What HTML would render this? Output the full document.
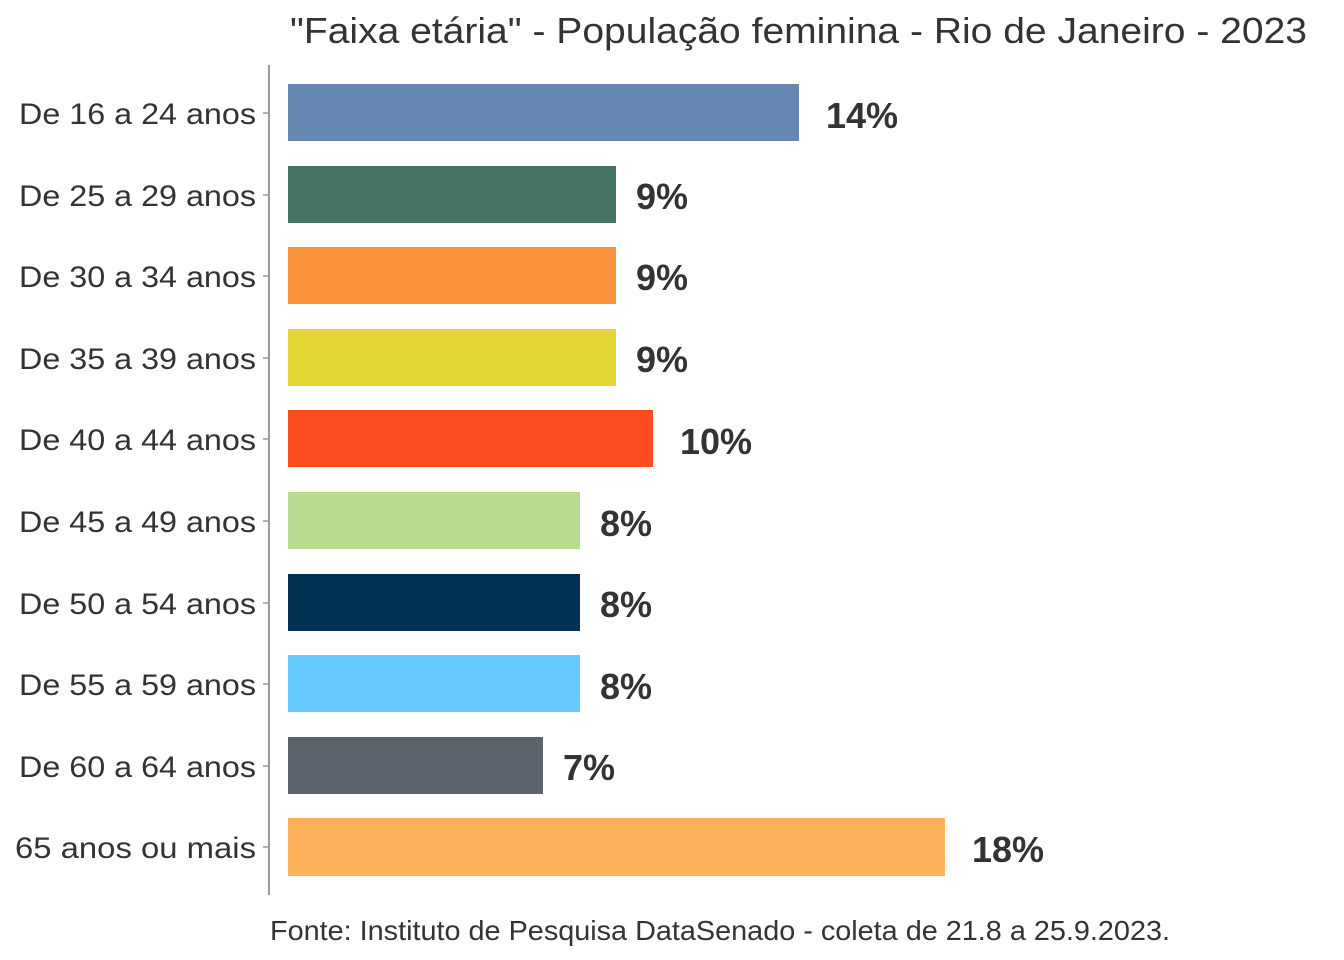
<!DOCTYPE html>
<html><head><meta charset="utf-8"><style>
html,body{margin:0;padding:0;background:#fff;}
svg{display:block;}
</style></head><body>
<svg width="1344" height="960" viewBox="0 0 1344 960" xmlns="http://www.w3.org/2000/svg">
<rect width="1344" height="960" fill="#fff"/>
<text x="290" y="43" font-family="Liberation Sans, sans-serif" font-size="36" fill="#333" textLength="1017" lengthAdjust="spacingAndGlyphs">"Faixa etária" - População feminina - Rio de Janeiro - 2023</text>
<line x1="269" y1="65" x2="269" y2="895" stroke="#999" stroke-width="2"/>
<g font-family="Liberation Sans, sans-serif" font-size="30" fill="#333" text-anchor="end">
<g stroke="#999" stroke-width="1.5">
<line x1="263" y1="113" x2="269" y2="113"/><line x1="263" y1="195" x2="269" y2="195"/><line x1="263" y1="276" x2="269" y2="276"/><line x1="263" y1="358" x2="269" y2="358"/><line x1="263" y1="439" x2="269" y2="439"/><line x1="263" y1="521" x2="269" y2="521"/><line x1="263" y1="603" x2="269" y2="603"/><line x1="263" y1="684" x2="269" y2="684"/><line x1="263" y1="766" x2="269" y2="766"/><line x1="263" y1="847" x2="269" y2="847"/>
</g>
<text x="256" y="124" textLength="237" lengthAdjust="spacingAndGlyphs">De 16 a 24 anos</text>
<text x="256" y="206" textLength="237" lengthAdjust="spacingAndGlyphs">De 25 a 29 anos</text>
<text x="256" y="287" textLength="237" lengthAdjust="spacingAndGlyphs">De 30 a 34 anos</text>
<text x="256" y="369" textLength="237" lengthAdjust="spacingAndGlyphs">De 35 a 39 anos</text>
<text x="256" y="450" textLength="237" lengthAdjust="spacingAndGlyphs">De 40 a 44 anos</text>
<text x="256" y="532" textLength="237" lengthAdjust="spacingAndGlyphs">De 45 a 49 anos</text>
<text x="256" y="614" textLength="237" lengthAdjust="spacingAndGlyphs">De 50 a 54 anos</text>
<text x="256" y="695" textLength="237" lengthAdjust="spacingAndGlyphs">De 55 a 59 anos</text>
<text x="256" y="777" textLength="237" lengthAdjust="spacingAndGlyphs">De 60 a 64 anos</text>
<text x="256" y="858" textLength="241" lengthAdjust="spacingAndGlyphs">65 anos ou mais</text>
</g>
<rect x="288" y="84" width="511" height="57" fill="#6688b0"/>
<rect x="288" y="166" width="328" height="57" fill="#447563"/>
<rect x="288" y="247" width="328" height="57" fill="#fb923e"/>
<rect x="288" y="329" width="328" height="57" fill="#e4d636"/>
<rect x="288" y="410" width="365" height="57" fill="#ff4b20"/>
<rect x="288" y="492" width="292" height="57" fill="#b8dc8f"/>
<rect x="288" y="574" width="292" height="57" fill="#003153"/>
<rect x="288" y="655" width="292" height="57" fill="#66c9ff"/>
<rect x="288" y="737" width="255" height="57" fill="#5d646e"/>
<rect x="288" y="818" width="657" height="58" fill="#fdb15a"/>
<g font-family="Liberation Sans, sans-serif" font-size="36" font-weight="bold" fill="#333">
<text x="826" y="128">14%</text>
<text x="636" y="209">9%</text>
<text x="636" y="290">9%</text>
<text x="636" y="372">9%</text>
<text x="680" y="454">10%</text>
<text x="600" y="536">8%</text>
<text x="600" y="617">8%</text>
<text x="600" y="699">8%</text>
<text x="563" y="780">7%</text>
<text x="972" y="862">18%</text>
</g>
<text x="270" y="940" font-family="Liberation Sans, sans-serif" font-size="28" fill="#333" textLength="900" lengthAdjust="spacingAndGlyphs">Fonte: Instituto de Pesquisa DataSenado - coleta de 21.8 a 25.9.2023.</text>
</svg>
</body></html>
